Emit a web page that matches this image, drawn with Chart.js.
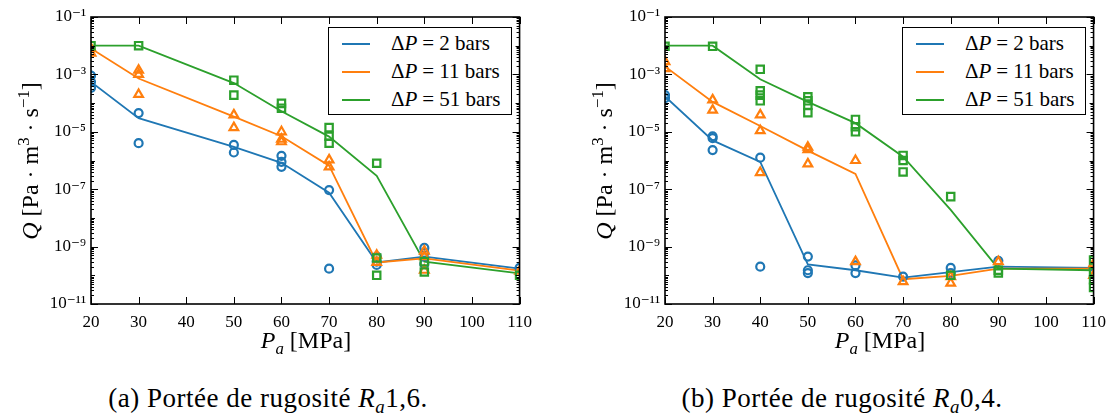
<!DOCTYPE html>
<html>
<head>
<meta charset="utf-8">
<script src="https://cdn.jsdelivr.net/npm/chart.js@4.4.0/dist/chart.umd.min.js"></script>
<style>
body{margin:0;background:#fff;width:1119px;height:418px;overflow:hidden;font-family:"Liberation Serif","DejaVu Serif",serif;color:#000;}
.panel{position:absolute;top:0;width:540px;height:340px;}
.ytitle{position:absolute;left:-126px;top:147px;width:300px;height:28px;line-height:28px;text-align:center;font-size:24px;transform:rotate(-90deg);white-space:nowrap;}
.xtitle{position:absolute;left:206px;top:327px;width:200px;text-align:center;font-size:24px;white-space:nowrap;}
.legend{position:absolute;left:328px;top:27px;width:182px;height:86px;border:1.3px solid #000;background:#fff;}
.legend div{position:absolute;left:62px;font-size:21px;white-space:nowrap;line-height:22px;}
.legend div span{margin:0 5px;}
.legend span.ln{position:absolute;left:13px;width:28px;height:2px;}
.caption{position:absolute;top:382px;width:440px;line-height:32px;text-align:center;font-size:27px;letter-spacing:0.5px;white-space:nowrap;}
sub,sup{font-size:70%;}
</style>
</head>
<body>

<div class="panel" id="panelA" style="left:0px;">
	<canvas id="chartA"></canvas>
	<div class="ytitle"><i>Q</i> [Pa · m<sup>3</sup> · s<sup>−1</sup>]</div>
	<div class="xtitle"><i>P<sub>a</sub></i> [MPa]</div>
	<div class="legend" id="legendA"></div>
</div>
<div class="panel" id="panelB" style="left:574px;">
	<canvas id="chartB"></canvas>
	<div class="ytitle"><i>Q</i> [Pa · m<sup>3</sup> · s<sup>−1</sup>]</div>
	<div class="xtitle"><i>P<sub>a</sub></i> [MPa]</div>
	<div class="legend" id="legendB"></div>
</div>

<div class="caption" style="left:48px;">(a) Portée de rugosité <i>R<sub>a</sub></i>1,6.</div>
<div class="caption" style="left:622px;">(b) Portée de rugosité <i>R<sub>a</sub></i>0,4.</div>

<script>
// series (pressure difference) names
var deltaP = [2, 11, 51];

// tick labels
var xTicks = [20, 30, 40, 50, 60, 70, 80, 90, 100, 110];
var yTickExps = [-11, -9, -7, -5, -3, -1];

// (a) Ra 1,6 : mean curves
var pressA = [20, 30, 50, 60, 70, 80, 90, 110];
var meanA2 = [5.5e-4, 3e-5, 3e-6, 8.3e-7, 7.5e-8, 2.8e-10, 4.5e-10, 1.7e-10];
var meanA11 = [8e-3, 7.2e-4, 3.4e-5, 7e-6, 6.6e-7, 2.8e-10, 3.9e-10, 1.45e-10];
var meanA51 = [1e-2, 1e-2, 5e-4, 5.2e-5, 6.8e-6, 2.9e-7, 3e-10, 1.17e-10];
// (a) individual measurements
var runsA2P = [20, 20, 20, 30, 30, 50, 50, 60, 60, 60, 70, 70, 80, 80, 80, 90, 90, 90, 110];
var runsA2Q = [9e-4, 5.5e-4, 3.4e-4, 4.5e-5, 4e-6, 3.5e-6, 1.9e-6, 1.45e-6, 9e-7, 6e-7, 9.3e-8, 1.7e-10, 4.5e-10, 3e-10, 2.3e-10, 9e-10, 6e-10, 2.5e-10, 1.8e-10];
var runsA11P = [20, 20, 30, 30, 30, 50, 50, 60, 60, 60, 70, 70, 80, 80, 90, 90, 90, 110];
var runsA11Q = [8e-3, 5.5e-3, 1.4e-3, 1e-3, 2e-4, 3.9e-5, 1.4e-5, 1e-5, 5.5e-6, 4.5e-6, 1.05e-6, 6e-7, 5e-10, 2.8e-10, 7e-10, 4.5e-10, 1.5e-10, 1.4e-10];
var runsA51P = [20, 30, 50, 50, 60, 60, 70, 70, 70, 80, 80, 80, 90, 90, 110];
var runsA51Q = [1e-2, 1e-2, 6.3e-4, 1.9e-4, 9.8e-5, 6.6e-5, 1.4e-5, 7e-6, 4e-6, 8e-7, 4e-10, 1e-10, 3e-10, 1.3e-10, 1e-10];

// (b) Ra 0,4 : mean curves
var pressB = [20, 30, 40, 50, 60, 70, 80, 90, 110];
var meanB2 = [1.7e-4, 5e-6, 9e-7, 2.4e-10, 1.5e-10, 8.3e-11, 1.3e-10, 2e-10, 1.8e-10];
var meanB11 = [1.9e-3, 1.1e-4, 1.6e-5, 2.2e-6, 3.4e-7, 7.3e-11, 9.5e-11, 1.7e-10, 1.7e-10];
var meanB51 = [1e-2, 1e-2, 6.8e-4, 1.1e-4, 2e-5, 1.35e-6, 1.9e-8, 1.7e-10, 1.5e-10];
// (b) individual measurements
var runsB2P = [20, 20, 30, 30, 30, 40, 40, 50, 50, 50, 60, 60, 70, 80, 80, 90, 110];
var runsB2Q = [1.9e-4, 1.5e-4, 7e-6, 6e-6, 2.3e-6, 1.25e-6, 2e-10, 4.5e-10, 1.5e-10, 1.2e-10, 2.2e-10, 1.2e-10, 9e-11, 1.8e-10, 1.2e-10, 3.2e-10, 2e-10];
var runsB11P = [20, 20, 30, 30, 40, 40, 40, 50, 50, 50, 60, 60, 70, 80, 80, 90, 110, 110];
var runsB11Q = [2.8e-3, 1.6e-3, 1.3e-4, 5.7e-5, 3.9e-5, 1.1e-5, 3.8e-7, 2.9e-6, 2.4e-6, 7.6e-7, 1e-6, 3e-10, 6e-11, 9e-11, 5.3e-11, 3e-10, 2.5e-10, 1e-10];
var runsB51P = [20, 30, 40, 40, 40, 40, 50, 50, 50, 50, 60, 60, 60, 70, 70, 70, 80, 80, 90, 90, 110, 110, 110, 110];
var runsB51Q = [9.5e-3, 9.5e-3, 1.5e-3, 2.7e-4, 1.9e-4, 1.2e-4, 1.66e-4, 1.2e-4, 8.5e-5, 4.6e-5, 2.7e-5, 1.5e-5, 1e-5, 1.5e-6, 1e-6, 4e-7, 5.5e-8, 1e-10, 1.5e-10, 1.2e-10, 3.4e-10, 1.3e-10, 7e-11, 3.8e-11];

var colors = ['#1f77b4', '#ff7f0e', '#2ca02c'];
var markers = [
	{style: 'circle', r: 4},
	{style: 'triangle', r: 5},
	{style: 'rect', r: 5.2}
];
var serif = '"Liberation Serif", "DejaVu Serif", serif';

function pairs(xs, ys){
	var out = [];
	for (var i = 0; i < xs.length; i++) {
		out.push({x: xs[i], y: ys[i]});
	}
	return out;
}

var supMap = {'-': '⁻', '0': '⁰', '1': '¹', '2': '²', '3': '³', '4': '⁴', '5': '⁵', '6': '⁶', '7': '⁷', '8': '⁸', '9': '⁹'};
function sup(n){
	return String(n).split('').map(function(c){ return supMap[c]; }).join('');
}

// frame + inward ticks on all four sides, placed from the chart scales
var frameTicks = {
	id: 'frameTicks',
	afterDatasetsDraw: function(chart){
		var ctx = chart.ctx, a = chart.chartArea;
		var x = chart.scales.x, y = chart.scales.y;
		ctx.save();
		ctx.strokeStyle = '#000';
		ctx.lineWidth = 1;
		ctx.beginPath();
		for (var i = 0; i < xTicks.length; i++) {
			var px = Math.round(x.getPixelForValue(xTicks[i])) + 0.5;
			ctx.moveTo(px, a.bottom); ctx.lineTo(px, a.bottom - 7);
			ctx.moveTo(px, a.top); ctx.lineTo(px, a.top + 7);
		}
		for (var e = -11; e <= -1; e++) {
			for (var m = 1; m <= 9; m++) {
				if (e === -1 && m > 1) break;
				var v = m * Math.pow(10, e);
				var py = Math.round(y.getPixelForValue(v)) + 0.5;
				var len = (m === 1) ? (yTickExps.indexOf(e) >= 0 ? 7 : 4) : 3;
				ctx.moveTo(a.left, py); ctx.lineTo(a.left + len, py);
				ctx.moveTo(a.right, py); ctx.lineTo(a.right - len, py);
			}
		}
		ctx.stroke();
		ctx.lineWidth = 1.6;
		ctx.strokeRect(a.left, a.top, a.right - a.left, a.bottom - a.top);
		ctx.restore();
	}
};

function buildChart(canvasId, legendId, press, means, runsP, runsQ){
	var datasets = [];
	for (var s = 0; s < 3; s++) {
		datasets.push({
			label: 'ΔP = ' + deltaP[s] + ' bars',
			data: pairs(press, means[s]),
			showLine: true,
			borderColor: colors[s],
			borderWidth: 1.8,
			pointRadius: 0,
			fill: false,
			clip: 0,
			order: 3 - s + 3
		});
	}
	for (var s = 0; s < 3; s++) {
		datasets.push({
			label: 'runs ' + deltaP[s],
			data: pairs(runsP[s], runsQ[s]),
			showLine: false,
			pointStyle: markers[s].style,
			pointRadius: markers[s].r,
			pointBorderWidth: 2.2,
			borderColor: colors[s],
			backgroundColor: 'rgba(0,0,0,0)',
			clip: 0,
			order: 3 - s
		});
	}

	new Chart(document.getElementById(canvasId), {
		type: 'scatter',
		data: {datasets: datasets},
		options: {
			responsive: true,
			maintainAspectRatio: false,
			animation: false,
			layout: {padding: {top: 17, right: 18, left: 0, bottom: 0}},
			plugins: {legend: {display: false}, tooltip: {enabled: false}},
			scales: {
				x: {
					type: 'linear', min: 20, max: 110,
					grid: {display: false, drawTicks: false},
					border: {display: false},
					afterBuildTicks: function(sc){ sc.ticks = xTicks.map(function(v){ return {value: v}; }); },
					afterFit: function(sc){ sc.height = 36; },
					ticks: {
						autoSkip: false, maxRotation: 0, padding: 8, color: '#000',
						font: {family: serif, size: 17}
					}
				},
				y: {
					type: 'logarithmic', min: 1e-11, max: 1e-1,
					grid: {display: false, drawTicks: false},
					border: {display: false},
					afterBuildTicks: function(sc){ sc.ticks = yTickExps.map(function(e){ return {value: Math.pow(10, e)}; }); },
					afterFit: function(sc){ sc.width = 91; },
					ticks: {
						autoSkip: false, padding: 5, color: '#000',
						font: {family: serif, size: 17},
						callback: function(v){ return '10' + sup(Math.round(Math.log10(v))); }
					}
				}
			}
		},
		plugins: [frameTicks]
	});

	var html = '';
	for (var s = 0; s < 3; s++) {
		var top = 15 + s * 28;
		html += "<span class='ln' style='top:" + top + "px;background:" + colors[s] + "'></span>" +
			"<div style='top:" + (top - 11) + "px'>Δ<i>P</i><span>=</span>" + deltaP[s] + " bars</div>";
	}
	document.getElementById(legendId).innerHTML = html;
}

buildChart('chartA', 'legendA', pressA, [meanA2, meanA11, meanA51], [runsA2P, runsA11P, runsA51P], [runsA2Q, runsA11Q, runsA51Q]);
buildChart('chartB', 'legendB', pressB, [meanB2, meanB11, meanB51], [runsB2P, runsB11P, runsB51P], [runsB2Q, runsB11Q, runsB51Q]);
</script>
</body>
</html>
